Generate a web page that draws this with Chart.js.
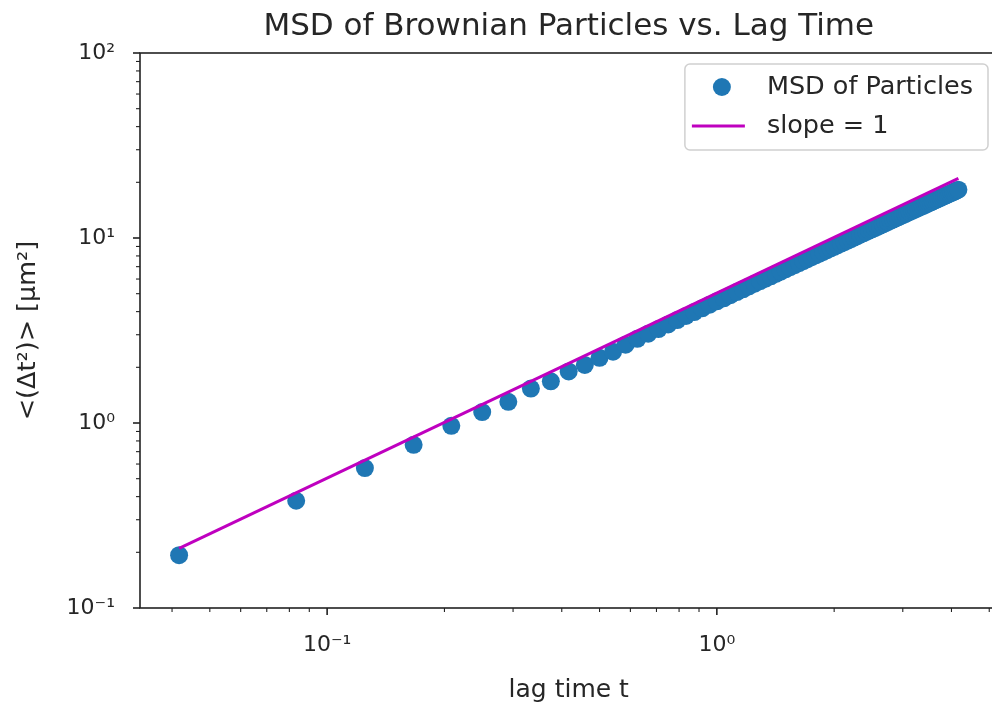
<!DOCTYPE html>
<html><head><meta charset="utf-8">
<script src="https://cdn.jsdelivr.net/npm/chart.js@4.4.1/dist/chart.umd.min.js"></script>
<style>
html,body{margin:0;padding:0;background:#fff;overflow:hidden;}
#c{display:block;width:992px;height:702px;}
</style>
</head><body><canvas id="c" width="992" height="702"></canvas>
<script>
// lag times (s)
const lagTimes = [0.0417,0.0833,0.1250,0.1667,0.2083,0.2500,0.2917,0.3333,0.3750,0.4167,
0.4583,0.5000,0.5417,0.5833,0.6250,0.6667,0.7083,0.7500,0.7917,0.8333,
0.8750,0.9167,0.9583,1.0000,1.0417,1.0833,1.1250,1.1667,1.2083,1.2500,
1.2917,1.3333,1.3750,1.4167,1.4583,1.5000,1.5417,1.5833,1.6250,1.6667,
1.7083,1.7500,1.7917,1.8333,1.8750,1.9167,1.9583,2.0000,2.0417,2.0833,
2.1250,2.1667,2.2083,2.2500,2.2917,2.3333,2.3750,2.4167,2.4583,2.5000,
2.5417,2.5833,2.6250,2.6667,2.7083,2.7500,2.7917,2.8333,2.8750,2.9167,
2.9583,3.0000,3.0417,3.0833,3.1250,3.1667,3.2083,3.2500,3.2917,3.3333,
3.3750,3.4167,3.4583,3.5000,3.5417,3.5833,3.6250,3.6667,3.7083,3.7500,
3.7917,3.8333,3.8750,3.9167,3.9583,4.0000,4.0417,4.0833,4.1250,4.1667];
// MSD values (um^2)
const msdValues = [0.193,0.380,0.571,0.762,0.965,1.145,1.302,1.535,1.680,1.900,
2.060,2.250,2.430,2.650,2.850,3.040,3.220,3.410,3.600,3.790,
3.980,4.170,4.360,4.550,4.720,4.910,5.100,5.280,5.470,5.660,
5.840,6.030,6.210,6.400,6.580,6.770,6.950,7.130,7.320,7.500,
7.680,7.870,8.050,8.230,8.410,8.600,8.780,8.960,9.140,9.330,
9.510,9.690,9.870,10.05,10.23,10.42,10.60,10.78,10.96,11.14,
11.32,11.50,11.68,11.86,12.04,12.22,12.40,12.58,12.76,12.93,
13.11,13.29,13.47,13.65,13.83,14.01,14.18,14.36,14.54,14.72,
14.89,15.07,15.25,15.42,15.60,15.78,15.95,16.13,16.31,16.48,
16.66,16.83,17.01,17.19,17.36,17.54,17.71,17.89,18.06,18.24];
// slope = 1 reference line endpoints
const slopeTimes = [0.0417, 4.1667];
const slopeValues = [0.21, 21.0];
// tick labels
const xMajorTicks = [0.1, 1];
const xMajorLabels = ['10\u207B\u00B9', '10\u2070'];
const yMajorTicks = [0.1, 1, 10, 100];
const yMajorLabels = ['10\u207B\u00B9', '10\u2070', '10\u00B9', '10\u00B2'];

const FONT = "'DejaVu Sans', sans-serif";
const TXT = '#262626';
const RIGHT_OVERHANG = 5.5; // axes box continues past the picture's right edge

function majorLabel(v, ticks, labels) {
  for (let i = 0; i < ticks.length; i++) {
    if (Math.abs(v - ticks[i]) / ticks[i] < 1e-6) return labels[i];
  }
  return '';
}

const tickPlugin = {
  id: 'mplTicks',
  afterLayout(chart) {
    const x = chart.scales.x;
    x.right += RIGHT_OVERHANG;
    x.width += RIGHT_OVERHANG;
    x.configure();
    chart.chartArea.right += RIGHT_OVERHANG;
    chart.chartArea.width += RIGHT_OVERHANG;
    if (chart.titleBlock) {
      chart.titleBlock.right += RIGHT_OVERHANG;
      chart.titleBlock.width += RIGHT_OVERHANG;
    }
  },
  afterDatasetsDraw(chart) {
    const ctx = chart.ctx, a = chart.chartArea;
    ctx.save();
    ctx.strokeStyle = '#222';
    ctx.lineWidth = 1.6;
    ctx.strokeRect(a.left, a.top, a.right - a.left, a.bottom - a.top);
    const drawTicks = (scale, horiz) => {
      const lo = Math.floor(Math.log10(scale.min)), hi = Math.ceil(Math.log10(scale.max));
      for (let e = lo; e <= hi; e++) {
        for (let d = 1; d <= 9; d++) {
          const v = d * Math.pow(10, e);
          if (v < scale.min * 0.9999 || v > scale.max * 1.0001) continue;
          const p = scale.getPixelForValue(v);
          const len = d === 1 ? 7 : 4;
          ctx.lineWidth = d === 1 ? 1.6 : 1.1;
          ctx.beginPath();
          if (horiz) { ctx.moveTo(p, a.bottom); ctx.lineTo(p, a.bottom + len); }
          else { ctx.moveTo(a.left, p); ctx.lineTo(a.left - len, p); }
          ctx.stroke();
        }
      }
    };
    drawTicks(chart.scales.x, true);
    drawTicks(chart.scales.y, false);
    ctx.restore();
  },
  afterDraw(chart) {
    const ctx = chart.ctx, a = chart.chartArea;
    const ds = chart.data.datasets;
    ctx.save();
    ctx.font = "25.5px " + FONT;
    const tw = Math.max(ctx.measureText(ds[0].label).width, ctx.measureText(ds[1].label).width);
    const right = a.right - 9.5, top = a.top + 11;
    const w = 82 + tw + 15, h = 86;
    const left = right - w;
    ctx.beginPath();
    ctx.roundRect(left, top, w, h, 5);
    ctx.fillStyle = 'rgba(255,255,255,0.8)';
    ctx.fill();
    ctx.strokeStyle = '#d0d0d0';
    ctx.lineWidth = 1.5;
    ctx.stroke();
    ctx.beginPath();
    ctx.arc(left + 37, top + 23, 9, 0, Math.PI * 2);
    ctx.fillStyle = ds[0].backgroundColor;
    ctx.fill();
    ctx.beginPath();
    ctx.moveTo(left + 7, top + 62);
    ctx.lineTo(left + 60, top + 62);
    ctx.strokeStyle = ds[1].borderColor;
    ctx.lineWidth = 3;
    ctx.stroke();
    ctx.fillStyle = TXT;
    ctx.textBaseline = 'middle';
    ctx.textAlign = 'left';
    ctx.fillText(ds[0].label, left + 82, top + 23);
    ctx.fillText(ds[1].label, left + 82, top + 62);
    ctx.restore();
  }
};

new Chart(document.getElementById('c'), {
  type: 'scatter',
  data: {
    datasets: [
      {
        label: 'MSD of Particles',
        data: lagTimes.map((t, i) => ({x: t, y: msdValues[i]})),
        backgroundColor: '#1f77b4',
        borderWidth: 0,
        pointRadius: 9,
        pointHoverRadius: 9,
        order: 1
      },
      {
        label: 'slope = 1',
        type: 'line',
        data: slopeTimes.map((t, i) => ({x: t, y: slopeValues[i]})),
        borderColor: '#bf00bf',
        backgroundColor: '#bf00bf',
        borderWidth: 3,
        pointRadius: 0,
        fill: false,
        tension: 0,
        order: 0
      }
    ]
  },
  options: {
    responsive: false,
    maintainAspectRatio: false,
    animation: false,
    events: [],
    devicePixelRatio: 1,
    layout: {autoPadding: false, padding: {left: 0, right: 0, top: 0, bottom: 0}},
    plugins: {
      legend: {display: false},
      tooltip: {enabled: false},
      title: {
        display: true,
        fullSize: false,
        text: 'MSD of Brownian Particles vs. Lag Time',
        color: TXT,
        font: {family: FONT, size: 31, weight: 'normal', lineHeight: 1.2},
        padding: {top: 8, bottom: 7.8}
      }
    },
    scales: {
      x: {
        type: 'logarithmic',
        min: 0.0331,
        max: 5.25,
        grid: {display: false},
        border: {display: false},
        ticks: {
          autoSkip: false, maxRotation: 0, minRotation: 0,
          padding: 16,
          color: TXT,
          font: {family: FONT, size: 22},
          callback: (v) => majorLabel(v, xMajorTicks, xMajorLabels)
        },
        title: {
          display: true, text: 'lag time t', color: TXT,
          font: {family: FONT, size: 25, lineHeight: 0.9},
          padding: {top: 0, bottom: 0}
        },
        afterFit(scale) { scale.height = 94; scale.paddingLeft = 0; scale.paddingRight = 0; }
      },
      y: {
        type: 'logarithmic',
        min: 0.1,
        max: 100,
        grid: {display: false},
        border: {display: false},
        ticks: {
          autoSkip: false,
          padding: 17,
          color: TXT,
          font: {family: FONT, size: 22},
          callback: (v) => majorLabel(v, yMajorTicks, yMajorLabels)
        },
        title: {
          display: true, text: '<(\u0394t\u00B2)> [\u03BCm\u00B2]', color: TXT,
          font: {family: FONT, size: 25.5, lineHeight: 1.1},
          padding: {top: 14, bottom: 0}
        },
        afterFit(scale) { scale.width = 140; scale.paddingTop = 0; scale.paddingBottom = 0; }
      }
    }
  },
  plugins: [tickPlugin]
});
</script>
</body></html>
